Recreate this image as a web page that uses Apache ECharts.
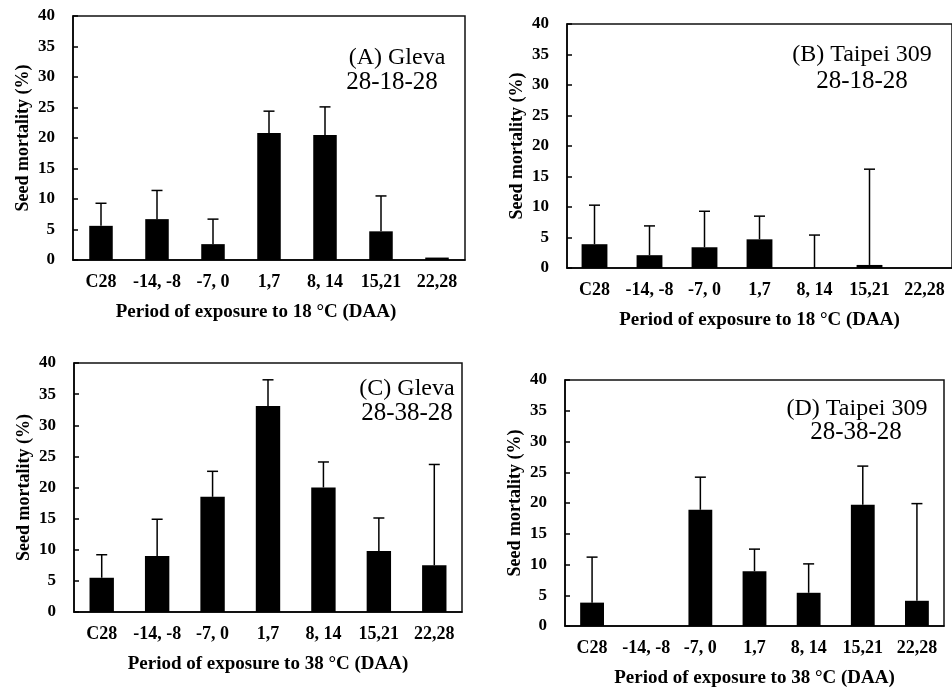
<!DOCTYPE html>
<html><head><meta charset="utf-8">
<script src="https://cdn.jsdelivr.net/npm/echarts@6/dist/echarts.min.js"></script>
<style>html,body{margin:0;padding:0;background:#fff}#c{width:952px;height:689px}</style>
</head><body><div id="c"></div>
<script>
// ---- data ----
const categories = ['C28', '-14, -8', '-7, 0', '1,7', '8, 14', '15,21', '22,28'];
const yTicks = [0, 5, 10, 15, 20, 25, 30, 35, 40];

const meanA = [5.6, 6.7, 2.6, 20.8, 20.5, 4.7, 0.4];
const errTopA = [9.3, 11.4, 6.7, 24.4, 25.1, 10.5, null];

const meanB = [3.9, 2.1, 3.4, 4.7, 0, 0.5, 0];
const errTopB = [10.3, 6.9, 9.3, 8.5, 5.4, 16.2, null];

const meanC = [5.5, 9.0, 18.5, 33.1, 20.0, 9.8, 7.5];
const errTopC = [9.2, 14.9, 22.6, 37.3, 24.1, 15.1, 23.7];

const meanD = [3.8, 0, 18.9, 8.9, 5.4, 19.7, 4.1];
const errTopD = [11.2, null, 24.2, 12.5, 10.1, 26.0, 19.9];

const panelLabels = [
  ['(A) Gleva', '28-18-28'],
  ['(B) Taipei 309', '28-18-28'],
  ['(C) Gleva', '28-38-28'],
  ['(D) Taipei 309', '28-38-28']
];
const xNames = [
  'Period of exposure to 18 \u00B0C (DAA)',
  'Period of exposure to 18 \u00B0C (DAA)',
  'Period of exposure to 38 \u00B0C (DAA)',
  'Period of exposure to 38 \u00B0C (DAA)'
];
const yName = 'Seed mortality (%)';

// ---- layout ----
const grids = [
  {left: 73, top: 16, width: 392, height: 244},
  {left: 567, top: 24, width: 388, height: 244},
  {left: 74, top: 363, width: 388, height: 249},
  {left: 565, top: 380, width: 379, height: 246}
];
const barWidths = ['42%', '47%', '44%', '44%'];
const labelPos = [
  [[397, 58], [392, 82]],
  [[862, 55], [862, 81]],
  [[407, 389], [407, 413]],
  [[857, 409], [856, 432]]
];
const xNamePad = [[0, 26, 0, 0], 0, 0, 0];

const means = [meanA, meanB, meanC, meanD];
const tops = [errTopA, errTopB, errTopC, errTopD];
const FONT = '"Liberation Serif", "Times New Roman", serif';

const option = {
  backgroundColor: '#fff',
  animation: false,
  grid: grids.map(g => Object.assign({show: true, borderColor: '#111', borderWidth: 1.5, backgroundColor: 'transparent'}, g)),
  xAxis: grids.map((g, i) => ({
    type: 'category', gridIndex: i, data: categories, boundaryGap: true,
    axisLine: {lineStyle: {color: '#000', width: 1.5}},
    axisTick: {inside: true, length: 4, lineStyle: {color: '#000', width: 1.5}},
    axisLabel: {color: '#000', fontFamily: FONT, fontWeight: 'bold', fontSize: 18, margin: 13, interval: 0},
    name: xNames[i], nameLocation: 'middle', nameGap: 43,
    nameTextStyle: {color: '#000', fontFamily: FONT, fontWeight: 'bold', fontSize: 19, padding: xNamePad[i]}
  })),
  yAxis: grids.map((g, i) => ({
    type: 'value', gridIndex: i, min: 0, max: 40, interval: 5,
    splitLine: {show: false},
    axisLine: {show: true, lineStyle: {color: '#000', width: 1.5}},
    axisTick: {show: true, inside: true, length: 5, lineStyle: {color: '#000', width: 1.5}},
    axisLabel: {color: '#000', fontFamily: FONT, fontWeight: 'bold', fontSize: 17, margin: 18},
    name: yName, nameLocation: 'middle', nameGap: 41, nameRotate: 90,
    nameTextStyle: {color: '#000', fontFamily: FONT, fontWeight: 'bold', fontSize: 18}
  })),
  series: [],
  graphic: []
};

means.forEach((m, i) => {
  option.series.push({
    type: 'bar', xAxisIndex: i, yAxisIndex: i, data: m,
    barWidth: barWidths[i], itemStyle: {color: '#000'}, z: 2
  });
  const errData = m.map((v, k) => [k, v, tops[i][k]]).filter(d => d[2] !== null);
  option.series.push({
    type: 'custom', xAxisIndex: i, yAxisIndex: i, z: 3,
    data: errData,
    renderItem: function (params, api) {
      const p0 = api.coord([api.value(0), api.value(1)]);
      const p1 = api.coord([api.value(0), api.value(2)]);
      const hw = 5.5;
      return {
        type: 'group',
        children: [
          {type: 'line', shape: {x1: p0[0], y1: p0[1], x2: p1[0], y2: p1[1]}, style: {stroke: '#000', lineWidth: 1.5}},
          {type: 'line', shape: {x1: p1[0] - hw, y1: p1[1], x2: p1[0] + hw, y2: p1[1]}, style: {stroke: '#000', lineWidth: 1.5}}
        ]
      };
    }
  });
  panelLabels[i].forEach((t, j) => {
    option.graphic.push({
      type: 'text', x: labelPos[i][j][0], y: labelPos[i][j][1], z: 10,
      style: {text: t, fill: '#000', font: (j === 0 ? '24px ' : '25px ') + FONT, textAlign: 'center', textVerticalAlign: 'middle'}
    });
  });
});

const chart = echarts.init(document.getElementById('c'), null, {renderer: 'canvas'});
chart.setOption(option);
</script>
</body></html>
